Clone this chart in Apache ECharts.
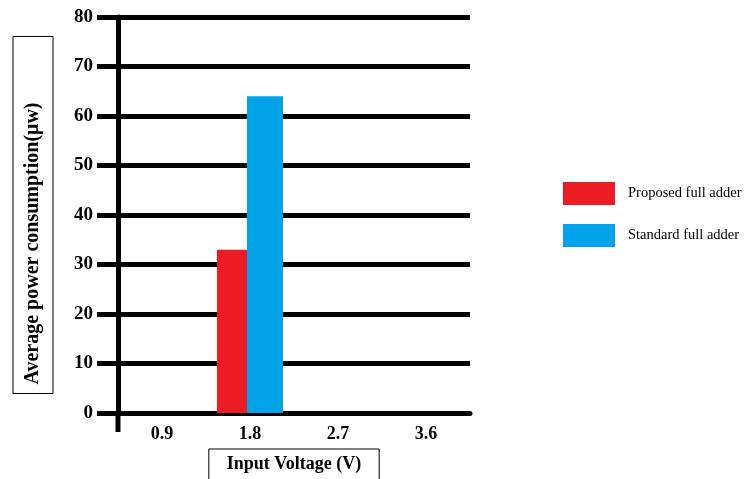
<!DOCTYPE html>
<html><head><meta charset="utf-8">
<script src="https://cdn.jsdelivr.net/npm/echarts@6/dist/echarts.min.js"></script>
<style>html,body{margin:0;padding:0;background:#fff}#c{width:750px;height:479px}</style>
</head><body><div id="c"></div>
<script>
var categories = ['0.9', '1.8', '2.7', '3.6'];
var proposed = [null, 33, null, null];
var standard = [null, 64, null, null];
var seriesNames = ['Proposed full adder', 'Standard full adder'];
var yTicks = {min: 0, max: 80, interval: 10};

var chart = echarts.init(document.getElementById('c'), null, {renderer: 'canvas'});
var serif = '"Liberation Serif", "Times New Roman", serif';
chart.setOption({
  backgroundColor: '#fff',
  animation: false,
  grid: {left: 118, right: 280, top: 17, bottom: 66, containLabel: false, outerBoundsMode: 'none'},
  legend: {
    orient: 'vertical', left: 558, top: 177, itemWidth: 52, itemHeight: 23, itemGap: 19,
    icon: 'rect',
    textStyle: {fontFamily: serif, fontSize: 14.5, color: '#000', padding: [0, 0, 0, 8]},
    data: seriesNames
  },
  xAxis: {
    type: 'category', data: categories,
    axisLine: {lineStyle: {color: '#000', width: 5}},
    axisTick: {show: false},
    axisLabel: {fontFamily: serif, fontWeight: 'bold', fontSize: 18, color: '#000', margin: 12},
    name: 'Input Voltage (V)', nameLocation: 'middle', nameGap: 36,
    nameTextStyle: {fontFamily: serif, fontWeight: 'bold', fontSize: 18, color: '#000',
      borderColor: '#000', borderWidth: 1, padding: [6, 18, 10, 18], align: 'center'}
  },
  yAxis: {
    type: 'value', min: yTicks.min, max: yTicks.max, interval: yTicks.interval,
    axisLine: {show: true, lineStyle: {color: '#000', width: 5}},
    axisTick: {show: true, length: 21, lineStyle: {color: '#000', width: 5}},
    splitLine: {show: true, lineStyle: {color: '#000', width: 5}},
    axisLabel: {fontFamily: serif, fontWeight: 'bold', fontSize: 19, color: '#000', margin: 25},
    name: 'Average power consumption(\u03bcw)', nameLocation: 'middle', nameRotate: 90, nameGap: 65,
    nameTextStyle: {fontFamily: serif, fontWeight: 'bold', fontSize: 20, color: '#000',
      borderColor: '#000', borderWidth: 1, padding: [10, 66, 10, 9]}
  },
  graphic: [{type: 'line', shape: {x1: 118, y1: 413, x2: 118, y2: 432}, style: {stroke: '#000', lineWidth: 5}}],
  series: [
    {name: seriesNames[0], type: 'bar', data: proposed, barWidth: 30, barGap: '0%',
      itemStyle: {color: '#ED1C24'}},
    {name: seriesNames[1], type: 'bar', data: standard, barWidth: 36, barGap: '0%',
      itemStyle: {color: '#00A2E8'}}
  ]
});
</script></body></html>
